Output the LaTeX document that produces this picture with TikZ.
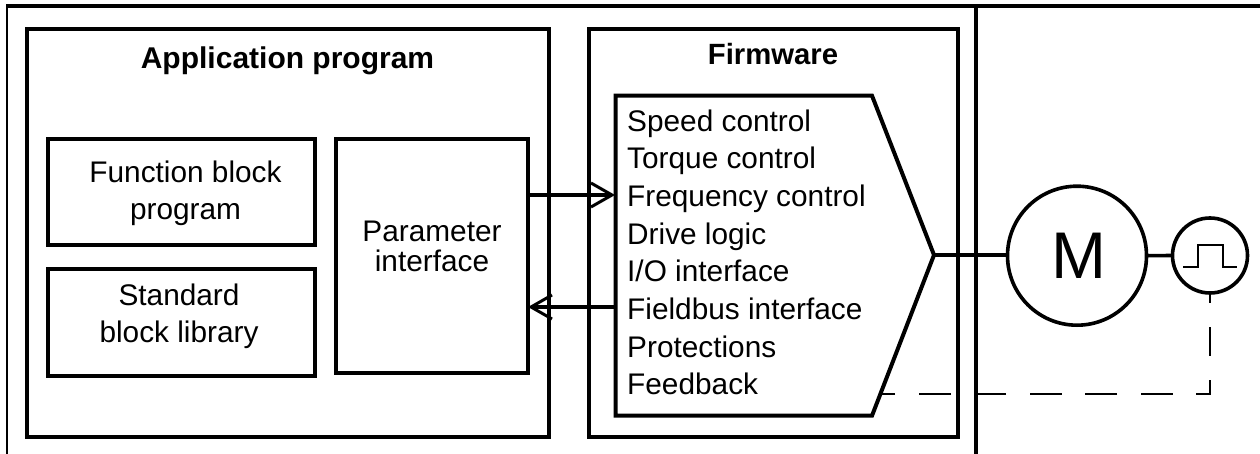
\documentclass[tikz,border=0pt]{standalone}
\usepackage{fontspec}
\setmainfont{Liberation Sans}
\usetikzlibrary{arrows.meta,calc}
\tikzset{
  x=1pt,y=-1pt,
  heavy/.style={draw=black,line width=4pt},
  framebox/.style={heavy,rectangle,inner sep=0pt,outer sep=0pt,anchor=north west},
  txt/.style={inner sep=0pt,align=center,font=\fontsize{29.8}{37}\selectfont},
  headline/.style={inner sep=0pt,anchor=base,font=\fontsize{30}{36}\bfseries\selectfont},
  wire/.style={draw=black,line width=3.6pt},
  flow/.style={wire,-{Straight Barb[length=21pt,width=24pt,line width=3pt]}},
  round/.style={circle,draw=black,line width=3.6pt,inner sep=0pt,outer sep=0pt},
  thinline/.style={draw=black,line width=2pt},
  feedbackv/.style={thinline,dash pattern=on 29pt off 24pt,dash phase=19pt},
  feedbackh/.style={thinline,dash pattern=on 32pt off 23.5pt,dash phase=18pt}
}
\begin{document}
\begin{tikzpicture}
\useasboundingbox (0,0) rectangle (1260,454);
% frame
\coordinate (tr) at (1260,6);
\coordinate (bl) at (7,454);
\coordinate (tla) at (7,5);
\coordinate (tlb) at (6,6);
\coordinate (st) at (976,6);
\coordinate (sb) at (976,454);
\draw[thinline] (bl) -- (tla);
\draw[heavy] (tlb) -- (tr);
\draw[heavy] (st) -- (sb);
% containers
\node[framebox,minimum width=522pt,minimum height=407.7pt] (app) at (27,29) {};
\node[framebox,minimum width=368.7pt,minimum height=407.7pt] (fw) at (589,29) {};
\node[headline] (apptitle) at (287.5,68.8) {Application program};
\node[headline,font=\fontsize{29.3}{36}\bfseries\selectfont] (fwtitle) at (773,64.5) {Firmware};
% inner boxes
\node[framebox,minimum width=267pt,minimum height=106pt] (fb) at (48,139) {};
\node[framebox,minimum width=267pt,minimum height=106.7pt] (lib) at (48,269) {};
\node[framebox,minimum width=192pt,minimum height=233.7pt] (par) at (336,139) {};
\node[txt] (fbt) at (185.5,193.1) {Function block\\program};
\node[txt] (libt) at (179,316.3) {Standard\\block library};
\node[txt,font=\fontsize{29.8}{30.5}\selectfont] (part) at (432,246.3) {Parameter\\interface};
% pentagon
\coordinate (p1) at (615.7,95.7);
\coordinate (p2) at (872,95.7);
\coordinate (apex) at (934,255);
\coordinate (p4) at (872,415.7);
\coordinate (p5) at (615.7,415.7);
\draw[heavy,line join=miter] (p1) -- (p2) -- (apex) -- (p4) -- (p5) -- cycle;
\node[txt,align=left,anchor=north west,font=\fontsize{29.8}{37.7}\selectfont] (fwlist) at (627,109.3)
 {Speed control\\Torque control\\Frequency control\\Drive logic\\I/O interface\\Fieldbus interface\\Protections\\Feedback};
% arrows
\coordinate (a1s) at (par.east |- 0,195);
\coordinate (a1e) at (615,195);
\coordinate (a2s) at (615.7,307);
\coordinate (a2e) at (528,307);
\draw[flow] (a1s) -- (a1e);
\draw[flow] (a2s) -- (a2e);
% motor
\node[round,minimum size=139pt] (motor) at (1077,255.7) {};
\node[inner sep=0pt,font=\fontsize{66}{66}\selectfont] (mt) at (1078.5,256) {M};
\node[round,minimum size=75pt] (enc) at (1210,255.5) {};
\draw[wire] (apex) -- (motor.west |- apex);
\draw[wire] (motor.east) -- (enc.west);
% pulse
\coordinate (q1) at (1183,267);
\coordinate (q2) at (1198,267);
\coordinate (q3) at (1198,245);
\coordinate (q4) at (1223,245);
\coordinate (q5) at (1223,267);
\coordinate (q6) at (1237,267);
\draw[thinline] (q1) -- (q2) -- (q3) -- (q4) -- (q5) -- (q6);
% feedback
\coordinate (corner) at (enc.south |- 0,394);
\coordinate (fbend) at (882,394);
\draw[feedbackv] (enc.south) -- ([yshift=-1pt]corner);
\draw[feedbackh] (corner) -- (fbend);
\end{tikzpicture}
\end{document}
